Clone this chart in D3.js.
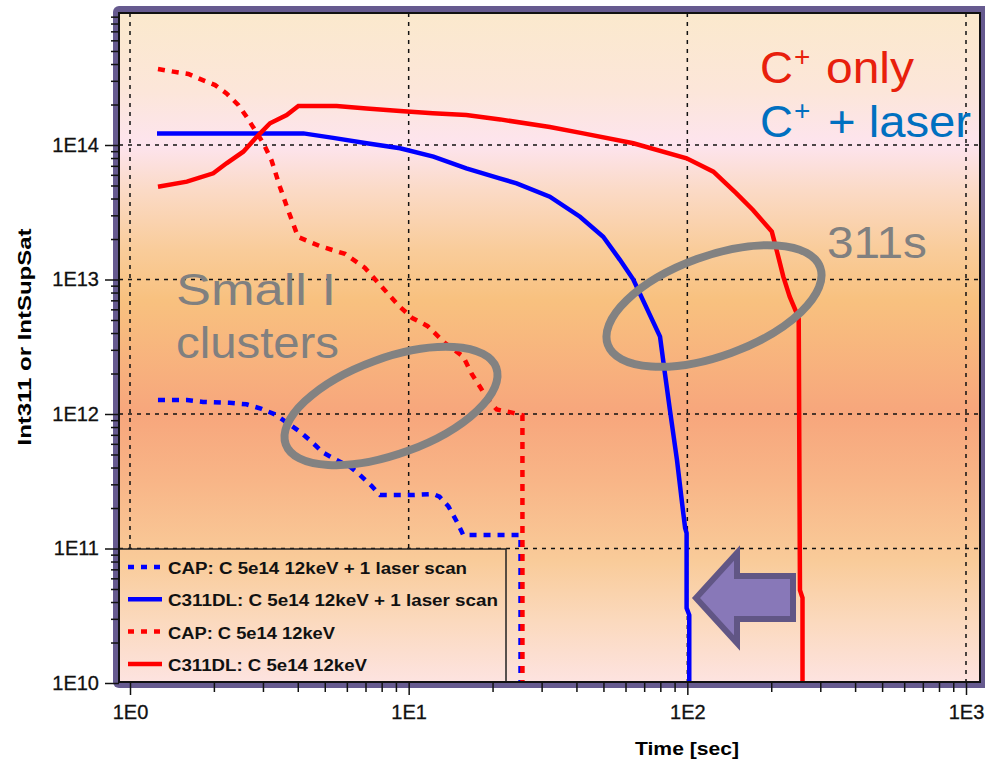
<!DOCTYPE html>
<html>
<head>
<meta charset="utf-8">
<title>Int311 vs time</title>
<script src="https://cdn.jsdelivr.net/npm/d3@7"></script>
<style>
  body { margin: 0; background: #fff; }
  text { font-family: "Liberation Sans", Arial, sans-serif; }
</style>
</head>
<body>
<svg id="chart" width="985" height="763"></svg>
<script>
// data (time in sec, intensity)
var capLaserTime  = [1.26, 1.6, 1.83, 2.28, 2.62, 2.97, 3.31, 3.70, 4.07, 4.49, 4.94, 5.51, 6.16, 6.69, 7.36, 7.89, 10.4, 12.25, 12.9, 13.9, 14.9, 15.7, 25.2, 25.2];
var capLaserValue = [1.27e12, 1.27e12, 1.23e12, 1.21e12, 1.18e12, 1.09e12, 9.95e11, 8.5e11, 7.4e11, 6.2e11, 5.15e11, 4.55e11, 4.06e11, 3.52e11, 2.92e11, 2.5e11, 2.5e11, 2.54e11, 2.43e11, 2.05e11, 1.58e11, 1.26e11, 1.26e11, 1e10];

var dlLaserTime  = [1.25, 4.19, 5.36, 7.07, 9.31, 12.27, 16.1, 21.2, 24.4, 32.1, 41.2, 49.9, 57.3, 64, 79.8, 83.1, 86.6, 91.8, 96.4, 98.2, 99.4, 99.4, 101.6, 101.6];
var dlLaserValue = [1.22e14, 1.22e14, 1.13e14, 1.03e14, 9.45e13, 8.19e13, 6.7e13, 5.65e13, 5.19e13, 4.13e13, 2.93e13, 2.08e13, 1.4e13, 1e13, 3.76e12, 2e12, 1.07e12, 4.55e11, 1.93e11, 1.42e11, 1.3e11, 3.6e10, 3.2e10, 1e10];

var capTime  = [1.26, 1.43, 1.62, 1.78, 2.02, 2.22, 2.45, 2.62, 2.81, 3.01, 3.22, 3.45, 3.69, 4.01, 4.81, 5.91, 6.97, 8.02, 9.16, 10.3, 11.7, 13.5, 15.7, 16.8, 18.0, 19.3, 20.7, 23.7, 25.6, 25.6];
var capValue = [3.67e14, 3.51e14, 3.37e14, 3.1e14, 2.79e14, 2.42e14, 1.98e14, 1.62e14, 1.29e14, 1.03e14, 7.7e13, 4.9e13, 3.29e13, 2.07e13, 1.77e13, 1.55e13, 1.22e13, 8.8e12, 6.46e12, 5.17e12, 4.5e12, 3.37e12, 2.67e12, 2e12, 1.6e12, 1.27e12, 1.08e12, 1.02e12, 9.8e11, 1e10];

var dlTime  = [1.26, 1.6, 1.99, 2.22, 2.55, 2.85, 3.18, 3.65, 4.02, 5.51, 7.06, 9.31, 12.2, 16.1, 21.3, 32.1, 42.3, 64, 99.4, 124, 150, 172, 201, 212, 221, 233, 247, 251, 253.6, 259, 259];
var dlValue = [4.9e13, 5.34e13, 6.16e13, 7.31e13, 8.92e13, 1.15e14, 1.45e14, 1.67e14, 1.95e14, 1.95e14, 1.87e14, 1.79e14, 1.72e14, 1.67e14, 1.55e14, 1.36e14, 1.22e14, 1.03e14, 7.96e13, 6.33e13, 4.37e13, 3.29e13, 2.27e13, 1.48e13, 1.05e13, 7.45e12, 5.6e12, 5.1e12, 4.9e10, 4.3e10, 1e10];

var xMajor = [1, 10, 100, 1000];
var xLabels = ["1E0", "1E1", "1E2", "1E3"];
var yMajor = [1e10, 1e11, 1e12, 1e13, 1e14];
var yLabels = ["1E10", "1E11", "1E12", "1E13", "1E14"];

var legendNames = ["CAP: C 5e14 12keV + 1 laser scan", "C311DL: C 5e14 12keV + 1 laser scan", "CAP: C 5e14 12keV", "C311DL: C 5e14 12keV"];

// layout
var plot = { left: 119, top: 13, right: 980, bottom: 682 };
var svg = d3.select("#chart");

var x = d3.scaleLog().domain([1, 1000]).range([130, 966]);
var y = d3.scaleLog().domain([1e10, 1e14]).range([683, 145]);

// background gradient
var defs = svg.append("defs");
var grad = defs.append("linearGradient")
    .attr("id", "bg")
    .attr("gradientUnits", "userSpaceOnUse")
    .attr("x1", 0).attr("y1", plot.top).attr("x2", 0).attr("y2", plot.bottom);
var stops = [
    [0, "#fbe9cd"], [0.115, "#fce6d9"], [0.197, "#fde4ee"], [0.265, "#fbdac6"],
    [0.354, "#f9cc9a"], [0.429, "#f8c17f"], [0.598, "#f7a67c"], [0.698, "#f8b587"],
    [0.818, "#f9cb99"], [0.908, "#fbd9bd"], [1, "#fde3e0"]
];
stops.forEach(function(s){
    grad.append("stop").attr("offset", s[0]).attr("stop-color", s[1]);
});

// purple frame
svg.append("rect")
    .attr("x", 113).attr("y", 6)
    .attr("width", 880).attr("height", 682)
    .attr("rx", 6)
    .attr("fill", "#665a8f");
svg.append("rect")
    .attr("x", plot.left).attr("y", plot.top)
    .attr("width", plot.right - plot.left).attr("height", plot.bottom - plot.top)
    .attr("fill", "url(#bg)");

// grid
var grid = svg.append("g")
    .attr("stroke", "#111")
    .attr("stroke-width", 1.5)
    .attr("stroke-dasharray", "4,5");
grid.selectAll(".gx").data(xMajor).enter().append("line")
    .attr("x1", function(d){ return x(d); }).attr("x2", function(d){ return x(d); })
    .attr("y1", plot.top).attr("y2", plot.bottom);
grid.selectAll(".gy").data(yMajor.slice(1)).enter().append("line")
    .attr("y1", function(d){ return y(d); }).attr("y2", function(d){ return y(d); })
    .attr("x1", plot.left).attr("x2", plot.right);

// ellipses
function ring(cx, cy, rx, ry){
    svg.append("ellipse")
        .attr("cx", cx).attr("cy", cy).attr("rx", rx).attr("ry", ry)
        .attr("transform", "rotate(-20," + cx + "," + cy + ")")
        .attr("fill", "none").attr("stroke", "#828282").attr("stroke-width", 8);
}

// curves
var line = d3.line()
    .x(function(d){ return x(d[0]); })
    .y(function(d){ return y(d[1]); });

var series = [
    { t: capLaserTime, v: capLaserValue, color: "#0000ff", dash: "7,7" },
    { t: dlLaserTime,  v: dlLaserValue,  color: "#0000ff", dash: null },
    { t: capTime,      v: capValue,      color: "#ff0000", dash: "7,7" },
    { t: dlTime,       v: dlValue,       color: "#ff0000", dash: null }
];

svg.selectAll(".curve")
    .data(series)
    .enter()
    .append("path")
    .attr("class", "curve")
    .attr("fill", "none")
    .attr("stroke", function(d){ return d.color; })
    .attr("stroke-width", 4.5)
    .attr("stroke-dasharray", function(d){ return d.dash; })
    .attr("d", function(d){
        return line(d.t.map(function(t, i){ return [t, d.v[i]]; }));
    });

// legend
var lg = svg.append("g");
lg.append("rect")
    .attr("x", plot.left).attr("y", 549)
    .attr("width", 387).attr("height", plot.bottom - 549)
    .attr("fill", "url(#bg)")
    .attr("stroke", "#222").attr("stroke-width", 1.5);
var legendLen = [299, 330, 167, 199];
legendNames.forEach(function(name, i){
    var yy = 567 + i * 32.3;
    lg.append("line")
        .attr("x1", 128).attr("x2", 162)
        .attr("y1", yy).attr("y2", yy)
        .attr("stroke", series[i].color)
        .attr("stroke-width", 4.5)
        .attr("stroke-dasharray", series[i].dash ? "6,7" : null);
    lg.append("text")
        .attr("x", 168).attr("y", yy + 7)
        .attr("font-size", "16px").attr("font-weight", "bold")
        .attr("textLength", legendLen[i])
        .attr("lengthAdjust", "spacingAndGlyphs")
        .attr("fill", "#111")
        .text(name);
});

// plot outline
svg.append("rect")
    .attr("x", plot.left).attr("y", plot.top)
    .attr("width", plot.right - plot.left).attr("height", plot.bottom - plot.top)
    .attr("fill", "none").attr("stroke", "#111").attr("stroke-width", 2);

// axes
var yMinor = [];
[10, 11, 12, 13, 14].forEach(function(e){
    for (var m = 2; m <= 9; m++) yMinor.push(m * Math.pow(10, e));
});
var xMinor = [];
[0, 1, 2].forEach(function(e){
    for (var m = 2; m <= 9; m++) xMinor.push(m * Math.pow(10, e));
});

function styleAxis(g){
    g.select(".domain").remove();
    g.selectAll("line").attr("stroke", "#111").attr("stroke-width", 1.5);
    g.selectAll("text").attr("font-family", "Liberation Sans, Arial, sans-serif")
        .attr("font-size", "20px").attr("fill", "#111")
        .attr("stroke", "#111").attr("stroke-width", 0.3);
}

svg.append("g").attr("transform", "translate(" + plot.left + ",0)")
    .call(d3.axisLeft(y).tickValues(yMinor).tickSize(8).tickFormat(""))
    .call(styleAxis);
svg.append("g").attr("transform", "translate(" + plot.left + ",0)")
    .call(d3.axisLeft(y).tickValues(yMajor).tickSize(14).tickPadding(6)
        .tickFormat(function(d, i){ return yLabels[i]; }))
    .call(styleAxis);

svg.append("g").attr("transform", "translate(0," + plot.bottom + ")")
    .call(d3.axisBottom(x).tickValues(xMinor).tickSize(10).tickFormat(""))
    .call(styleAxis);
svg.append("g").attr("transform", "translate(0," + plot.bottom + ")")
    .call(d3.axisBottom(x).tickValues(xMajor).tickSize(13).tickPadding(10)
        .tickFormat(function(d, i){ return xLabels[i]; }))
    .call(styleAxis);

// axis titles
svg.append("text")
    .attr("transform", "translate(31,337) rotate(-90)")
    .attr("text-anchor", "middle")
    .attr("font-size", "19px").attr("font-weight", "bold")
    .attr("textLength", 217).attr("lengthAdjust", "spacingAndGlyphs")
    .text("Int311 or IntSupSat");
svg.append("text")
    .attr("x", 687).attr("y", 755)
    .attr("text-anchor", "middle")
    .attr("font-size", "19px").attr("font-weight", "bold")
    .attr("textLength", 104).attr("lengthAdjust", "spacingAndGlyphs")
    .text("Time [sec]");

// annotations
ring(391, 406, 112, 48);
ring(714, 306, 113, 50);

function label(txt, xx, yy, color, size, len){
    var t = svg.append("text")
        .attr("x", xx).attr("y", yy)
        .attr("font-size", size + "px")
        .attr("fill", color)
        .text(txt);
    if (len) t.attr("textLength", len).attr("lengthAdjust", "spacingAndGlyphs");
    return t;
}
label("C", 760, 83, "#e8200c", 44, 33);
label("+", 794, 66, "#e8200c", 28);
label("only", 826, 83, "#e8200c", 44, 88);
label("C", 760, 137, "#0070c0", 44, 33);
label("+", 794, 120, "#0070c0", 28);
label("+ laser", 828, 137, "#0070c0", 44, 143);
label("311s", 827, 258, "#808080", 44, 100);
label("Small I", 176, 305, "#808080", 44, 160);
label("clusters", 176, 358, "#808080", 44, 163);

// arrow
svg.append("polygon")
    .attr("points", "696,598 737,553 737,576 793,576 793,619 737,619 737,643")
    .attr("fill", "#8878b8")
    .attr("stroke", "#615685")
    .attr("stroke-width", 6);
</script>
</body>
</html>
